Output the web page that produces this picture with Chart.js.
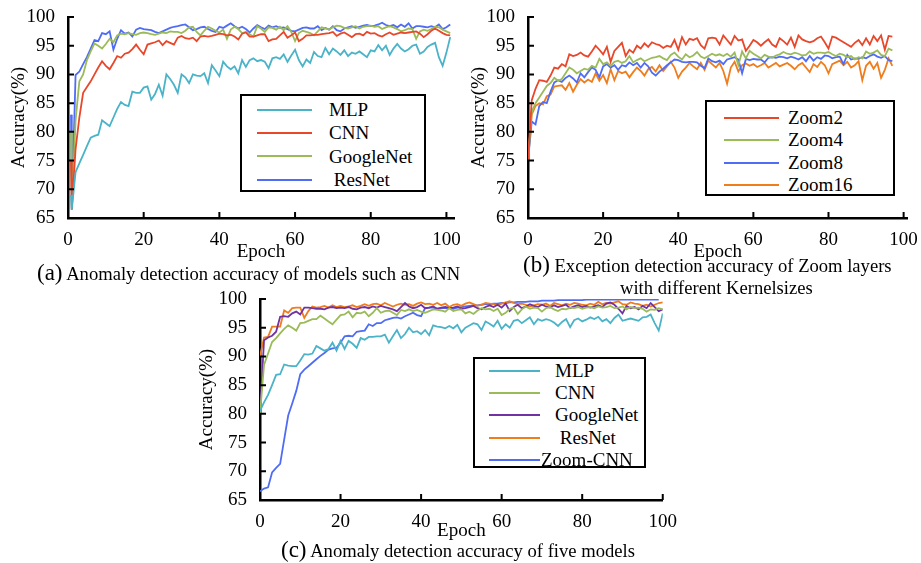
<!DOCTYPE html>
<html>
<head>
<meta charset="utf-8">
<script src="https://cdn.jsdelivr.net/npm/chart.js@4.4.1/dist/chart.umd.min.js"></script>
<style>
  body { margin: 0; background: #fff; width: 921px; height: 563px; position: relative; overflow: hidden;
         font-family: 'Liberation Serif', 'Times New Roman', serif; color: #000; }
  canvas { position: absolute; }
  .legend { position: absolute; box-sizing: border-box; border: 2px solid #000; background: #fff; }
  .legend .row { position: relative; }
  .legend .swatch { position: absolute; height: 0; border-top: 2px solid; }
  .legend .txt { position: absolute; font-size: 19px; white-space: pre; }
  .caption { position: absolute; white-space: nowrap; font-size: 18.6px; line-height: 24px; }
  .caption .tag { font-size: 23px; }
</style>
</head>
<body>
<canvas id="chartA"></canvas>
<canvas id="chartB"></canvas>
<canvas id="chartC"></canvas>

<div class="caption" style="left:37px; top:261px;"><span class="tag">(a)</span> Anomaly detection accuracy of models such as CNN</div>
<div class="caption" style="left:523px; top:253px;"><span class="tag">(b)</span> Exception detection accuracy of Zoom layers</div>
<div class="caption" style="left:620px; top:276px;">with different Kernelsizes</div>
<div class="caption" style="left:281px; top:538px;"><span class="tag">(c)</span> Anomaly detection accuracy of five models</div>

<script>
// shared tick labels
const xTicks = [0, 20, 40, 60, 80, 100];
const yTicks = [65, 70, 75, 80, 85, 90, 95, 100];

// ---- (a) models such as CNN ----
const epochsA = [0.8, 1, 2, 3, 4, 5, 6, 7, 8, 9, 10, 11, 12, 13, 14, 15, 16, 17, 18, 19, 20,
  21, 22, 23, 24, 25, 26, 27, 28, 29, 30, 31, 32, 33, 34, 35, 36, 37, 38, 39, 40,
  41, 42, 43, 44, 45, 46, 47, 48, 49, 50, 51, 52, 53, 54, 55, 56, 57, 58, 59, 60,
  61, 62, 63, 64, 65, 66, 67, 68, 69, 70, 71, 72, 73, 74, 75, 76, 77, 78, 79, 80,
  81, 82, 83, 84, 85, 86, 87, 88, 89, 90, 91, 92, 93, 94, 95, 96, 97, 98, 99, 100, 101];
const labelsA = ['MLP', 'CNN', 'GoogleNet', ' ResNet'];
const mlpA = [69, 66.5, 73, 74.5, 76, 77.5, 79, 79.3, 79.5, 82, 81.5, 81, 82.5, 84, 85.2, 84.7, 84.5, 87, 86.8, 86.8, 87.7,
  87.9, 85.6, 86.6, 88.2, 86.3, 90, 89.2, 88.2, 86.8, 90, 89.5, 88.5, 90, 89.8, 89.7, 90.2, 88.5, 91.6, 90.7, 89.7,
  92.2, 91.4, 90.9, 91.4, 90.2, 92.5, 91.3, 92.5, 92.8, 92.3, 92.5, 92.2, 91.1, 92.8, 93, 92.7, 93.5, 92.2, 93.3, 94.3,
  92.5, 91.4, 92.6, 92, 93.9, 93.2, 93, 94.6, 93.5, 94.5, 94, 93.4, 94.2, 93.2, 93.8, 93.6, 94, 93.5, 93, 94.2,
  94, 95.1, 94.2, 95, 93.4, 94.5, 95.3, 94.5, 94, 94.4, 95, 95.2, 93.6, 94, 94.8, 95.2, 95.5, 93, 91.5, 93.8, 96.5];
const cnnA = [75, 66.5, 77, 82.5, 86.8, 87.8, 88.8, 90, 91.2, 92.3, 91.5, 90.9, 92, 93.2, 92.9, 93.6, 93.8, 94.4, 95.2, 94.3, 93.5,
  95.2, 95.4, 95.6, 95.9, 95.1, 95.8, 95.5, 95.2, 96.4, 96.7, 96.3, 96.2, 96.4, 95.8, 96.6, 96.7, 96.6, 96.7, 96.9, 97.1,
  97, 96.8, 96.9, 96.6, 96.1, 97.1, 97.3, 96.6, 96.6, 96.8, 97, 97, 95.8, 96.1, 96.2, 96.8, 97.4, 96.4, 96.8, 97.3,
  95.8, 96.2, 96.8, 96.8, 96.9, 96.9, 97, 97.1, 97.2, 97.4, 96.7, 97.1, 97.3, 96.9, 96.5, 97, 97.1, 96.8, 97.4, 97.1,
  97.2, 96.8, 96.6, 97, 97.3, 96.9, 97.1, 97.3, 97.2, 97.3, 97.4, 97.5, 97.1, 96.5, 97, 97.6, 98, 97.6, 97.2, 96.9, 96.8];
const googleA = [80, 66.5, 82, 88.8, 90, 92.5, 94, 95.4, 95, 94.5, 95.3, 96.2, 95.6, 96.8, 97.1, 97, 97.2, 97, 96.9, 97.2, 97.3,
  97.2, 97, 96.9, 97.1, 97.3, 97.2, 97.5, 97.4, 97.4, 97.2, 97.6, 98.2, 98.3, 97.4, 96.8, 97.6, 98.3, 98, 97.6, 97.3,
  97.8, 96.2, 97.8, 98.3, 97.9, 97.2, 97.4, 97, 96.6, 98.4, 98, 97.4, 98.2, 98.1, 97.8, 98.3, 97.7, 98.4, 97.4, 95.8,
  97.2, 97.6, 97.4, 97.2, 96.8, 97.5, 98.2, 98, 97.8, 98.2, 98.5, 98.4, 98.1, 98, 98.2, 98.4, 98, 98.3, 98.4, 98.5,
  98.3, 98.4, 97.9, 98.2, 98.4, 98.2, 97.9, 97.5, 97.7, 98, 97.9, 96.2, 97.5, 97.8, 97.6, 97.9, 98.3, 98.2, 97.8, 97.5, 97.2];
const resnetA = [83, 66.5, 89.9, 90.5, 91.8, 93, 94.5, 96, 95.8, 97.2, 97, 97.5, 94.3, 96.2, 97.7, 97.1, 97.3, 96.6, 97.8, 98.1, 97.9,
  97.8, 97.7, 97.4, 97.2, 97.5, 97.8, 98.1, 98.3, 98.4, 98.6, 98.7, 98.2, 97.7, 97.9, 98.2, 98.3, 97.9, 97.6, 97.4, 98.3,
  98.1, 98.5, 98.9, 98.4, 98, 98.3, 97.9, 97.3, 98, 98.6, 98.2, 97.9, 98.5, 98.2, 98.4, 98.1, 98.2, 97.9, 97.6, 97.5,
  97.8, 98.1, 98.2, 98, 98, 98.4, 97.7, 98.1, 97.8, 98.4, 97.7, 97.5, 98, 98.2, 98.4, 98.1, 98.3, 98.5, 98.6, 98.4,
  98.5, 98.7, 99, 98.6, 98.4, 98.6, 98.2, 98.7, 98.3, 98.9, 98, 98.4, 98.4, 98.3, 98.2, 98.4, 98.2, 98.7, 97.9, 98.2, 98.7];

// ---- (b) Zoom layers with different kernel sizes ----
const epochsB = [0, 1, 2, 3, 4, 5, 6, 7, 8, 9, 10, 11, 12, 13, 14, 15, 16, 17, 18, 19, 20,
  21, 22, 23, 24, 25, 26, 27, 28, 29, 30, 31, 32, 33, 34, 35, 36, 37, 38, 39, 40,
  41, 42, 43, 44, 45, 46, 47, 48, 49, 50, 51, 52, 53, 54, 55, 56, 57, 58, 59, 60,
  61, 62, 63, 64, 65, 66, 67, 68, 69, 70, 71, 72, 73, 74, 75, 76, 77, 78, 79, 80,
  81, 82, 83, 84, 85, 86, 87, 88, 89, 90, 91, 92, 93, 94, 95, 96, 97];
const labelsB = ['Zoom2', 'Zoom4', 'Zoom8', 'Zoom16'];
const zoom2 = [75, 85.5, 87.5, 89, 88.9, 88.7, 89.8, 91.2, 91, 91.8, 91.4, 93.5, 93.2, 93.4, 93.8, 93.3, 93.1, 94, 95, 94.3, 93.5,
  94.8, 92.2, 94.1, 94.8, 95.5, 93.2, 94.3, 93.8, 95, 94.5, 95.4, 94.8, 95.6, 95.3, 95.1, 94.6, 95, 94.8, 96, 94.3,
  96.5, 95.2, 96.2, 96, 96.3, 95.1, 94.5, 96.3, 96.4, 96.3, 95.2, 96.8, 96, 95.2, 96.7, 95.9, 96.1, 94.1, 95, 96,
  95.6, 95, 95.6, 96.1, 95.2, 94.8, 96.3, 95.8, 95.2, 96.4, 94.8, 96.8, 96.1, 95.8, 95.6, 95.8, 96.3, 96.6, 95.6, 94.5,
  96.6, 96.4, 96, 95.6, 95.2, 94.8, 95.5, 96, 95.1, 96.3, 95.2, 96.7, 95.8, 96.8, 94.3, 96.7, 96.6];
const zoom4 = [75, 83.5, 85, 86, 87, 88, 88.5, 89.4, 88.9, 89.2, 90.2, 91.2, 90.8, 90.2, 90.6, 91, 90.8, 91.5, 91.2, 92.7, 91.8,
  92.1, 91.5, 92.2, 92.4, 92, 92.3, 93.2, 92.1, 92.5, 92.8, 92.3, 92.6, 92.9, 93, 93.2, 92.8, 92.5, 93.4, 93.8, 93.1,
  92.6, 93.5, 93, 93.3, 93.9, 93.1, 92.8, 93.2, 93.6, 93.3, 93.5, 93.2, 93.6, 93.1, 93.8, 91.6, 94, 92.8, 94.1, 93.6,
  93.2, 92.8, 93.4, 93.1, 92.9, 93.3, 93.5, 93.9, 93.6, 93.5, 93.8, 93.6, 93.3, 93.4, 94, 93.6, 93.8, 93.8, 93.7, 93.9,
  93.5, 93.2, 93.6, 93.4, 93, 93.2, 92.6, 93, 92.8, 94, 93.6, 93.8, 94.2, 93.4, 93.2, 94.5, 94.2];
const zoom8 = [75, 81.8, 81.3, 84.5, 85.2, 85, 87, 88.6, 89, 88.7, 89.4, 89.8, 89.3, 88.6, 90.2, 89.5, 90.4, 91.2, 90.8, 89.5, 91.4,
  91.8, 91.2, 91.6, 90.8, 91.6, 91.4, 92.1, 91.6, 92, 91.2, 92, 91.4, 90.3, 89.8, 90.5, 91, 91.6, 92.1, 92.6, 92.5,
  92.2, 92.1, 92.2, 92.2, 92.1, 91.5, 91.1, 92.8, 92.3, 92.1, 92.4, 91.8, 92.6, 92.8, 93, 92.6, 90.2, 92.7, 92.5, 92.7,
  92.6, 92.6, 92.1, 92.9, 93, 92.9, 93.1, 93, 92.8, 93.1, 92.9, 92.6, 93, 92.3, 93.2, 92.4, 93, 92.7, 93.3, 93.2,
  92.8, 93, 93.1, 91.8, 93.4, 92.6, 92.8, 92.7, 93, 92.8, 93.2, 93.5, 93.1, 92.9, 93.2, 92.5, 92.3];
const zoom16 = [75, 83, 84.5, 85, 84.8, 86.2, 86.5, 87.9, 88, 88.1, 87.3, 88.5, 87, 88.2, 89.2, 88.6, 89.1, 88.7, 90.2, 88.9, 89.9,
  88.5, 90.9, 89, 90.6, 90.2, 90.5, 89.5, 90.4, 91.2, 90.6, 89.8, 90.9, 91.3, 90.5, 91.6, 90.6, 91.4, 92.2, 91.2, 89.4,
  90.5, 91.2, 92, 91.4, 90.9, 92, 90.8, 92.4, 91.8, 91.2, 92, 90.6, 88.4, 91.2, 92.2, 90.5, 91.6, 91.9, 91.5, 91.8,
  91.3, 91.6, 92, 91.2, 91.6, 92, 91.4, 91.7, 92, 91.5, 90.9, 91.6, 92, 91.2, 90.4, 91.8, 91.3, 92.2, 91.6, 90.2,
  91.8, 92.1, 92.4, 91.6, 92.2, 91.2, 91.6, 92.3, 89, 91.5, 92.2, 91, 92, 89.4, 90.8, 92.8, 91.5];

// ---- (c) five models ----
const epochsC = [0, 1, 2, 3, 4, 5, 6, 7, 8, 9, 10, 11, 12, 13, 14, 15, 16, 17, 18, 19, 20,
  21, 22, 23, 24, 25, 26, 27, 28, 29, 30, 31, 32, 33, 34, 35, 36, 37, 38, 39, 40,
  41, 42, 43, 44, 45, 46, 47, 48, 49, 50, 51, 52, 53, 54, 55, 56, 57, 58, 59, 60,
  61, 62, 63, 64, 65, 66, 67, 68, 69, 70, 71, 72, 73, 74, 75, 76, 77, 78, 79, 80,
  81, 82, 83, 84, 85, 86, 87, 88, 89, 90, 91, 92, 93, 94, 95, 96, 97, 98, 99, 100];
const labelsC = ['MLP', 'CNN', 'GoogleNet', ' ResNet', 'Zoom-CNN'];
const mlpC = [80.5, 82, 83.3, 85, 86.8, 86.9, 88.6, 88.4, 88.3, 88.3, 89.3, 90.4, 90.3, 90.5, 91.8, 91.4, 91, 91.3, 92.4, 91, 92.7,
  91.3, 92.7, 92.2, 91.5, 93.2, 92.9, 93.4, 93.4, 93.5, 93.5, 93.8, 92.4, 93.5, 94.6, 93.2, 93.9, 95, 94.2, 94.4, 93.9,
  94.6, 93.7, 95.4, 95.2, 95.1, 94.9, 95.3, 94.9, 95.5, 94.2, 95, 95.4, 95.8, 95.6, 94.6, 96.1, 95.7, 95.2, 96.2, 94.8,
  95.6, 95, 96.2, 96.4, 95.8, 96.3, 96.8, 95.6, 96.5, 96.2, 96.5, 96.3, 95.9, 95.3, 96, 96.5, 95.1, 96.3, 96.6, 96.1,
  96.4, 96.8, 96.5, 96.9, 96.1, 96.5, 95.8, 96.7, 97.3, 96.2, 96.4, 96.6, 96.4, 96.2, 96.8, 96.9, 97.3, 95.8, 94.5, 97.5];
const cnnC = [80, 88.5, 90.5, 92.5, 93.2, 94, 94.8, 95.4, 95, 94.5, 95.8, 95.9, 96.2, 96.5, 96.5, 97.1, 96.6, 96.1, 95.6, 96.4, 97.2,
  97.3, 97.8, 96.8, 97.6, 97.5, 97.8, 97, 97.6, 98.4, 97.6, 97.9, 98, 97.6, 97.2, 98.1, 97.9, 98.2, 97.9, 98.1, 97.8,
  97.6, 97.9, 98.2, 98.1, 98, 97.8, 98.4, 97.9, 98.1, 98.2, 97.5, 97.8, 97.4, 98, 98.4, 98.2, 98.3, 97.9, 98.3, 97.2,
  97.6, 98.3, 98.5, 97.4, 98.2, 98.7, 98.3, 98.5, 98.4, 97.8, 98.4, 98.6, 98.2, 97.9, 98.3, 98.2, 98.5, 98.4, 98.6, 98.3,
  98.5, 98.6, 98.4, 98.7, 98.5, 98.6, 98.8, 98.4, 98.5, 98.7, 98.2, 98.6, 98.4, 98.5, 98.3, 97.8, 98.2, 98.1, 98.4, 98.2];
const googleC = [80, 92.8, 93.3, 93.6, 94.3, 96.9, 97, 96.9, 97.5, 97.8, 97.3, 98.5, 98.5, 98.4, 98.3, 98.3, 98.2, 98.5, 98.6, 98.4, 98.5,
  98.4, 98.6, 98.3, 98.2, 98.5, 98.6, 98.4, 98.7, 98.5, 98.8, 98.6, 98.4, 98.2, 97.9, 98.6, 99.3, 98.7, 98.4, 98.6, 99,
  98.4, 98.5, 98.7, 98.3, 98.5, 98.6, 98.4, 98.5, 98.7, 98.3, 98.4, 98.6, 98.8, 98.4, 98.2, 98.6, 98.9, 98.6, 99, 98.5,
  99.2, 97.9, 98.6, 99, 98.4, 98.7, 99.1, 98.8, 98.6, 99, 98.7, 98.5, 98.9, 98.6, 98.8, 99, 98.4, 98.7, 98.9, 98.6,
  98.8, 98.5, 98.7, 98.9, 98.6, 99.2, 99.4, 99, 98.3, 97.5, 98.8, 98.4, 98.6, 98.2, 98.8, 98.4, 99.3, 98.6, 97.9, 98.2];
const resnetC = [90, 93.3, 93.4, 95.2, 95.2, 95.2, 98, 97.6, 98.4, 98.5, 98.5, 96.7, 97.9, 98.7, 98.5, 98.6, 98.8, 98.5, 98.9, 98.6, 98.8,
  98.6, 98.7, 98.9, 98.6, 98.8, 99.1, 98.8, 99.1, 99.2, 98.9, 99.3, 99, 98.7, 99, 99.2, 99, 99.1, 98.8, 99.2, 99.4,
  99.1, 99.2, 99, 99.3, 98.9, 99.2, 98.6, 99, 99.1, 98.8, 99.2, 99.4, 99.1, 98.8, 99, 99.3, 99.2, 99.1, 98.9, 99.2,
  99.4, 99.6, 99.3, 99.1, 99.2, 99, 98.7, 98.9, 99.1, 99, 99.2, 98.8, 99.3, 99.1, 98.9, 99.2, 99, 99.3, 99.2, 99,
  98.9, 99.2, 99, 99.5, 99.1, 99.3, 99.2, 99.4, 99.6, 99.1, 99, 99.4, 99.2, 99.1, 98.8, 99, 98.7, 99, 99.3, 99.4];
const zoomCnnC = [66.5, 67, 67.2, 69.8, 70.6, 71.3, 75.5, 79.7, 81.8, 84, 86.9, 87.7, 88.3, 88.9, 89.5, 90.1, 90.6, 91.2, 91.4, 91.5, 92.4,
  93.5, 93.6, 93.5, 94.3, 94.4, 94.5, 95.6, 95.3, 95.8, 95.8, 96.3, 96.5, 96.7, 96.8, 96.6, 97, 97.3, 97.6, 97.2, 97,
  98.4, 98.5, 98.5, 98.3, 98.4, 98.4, 98.4, 98.3, 98.5, 98.6, 98.7, 98.8, 98.9, 98.9, 99, 99.1, 99.1, 99.2, 99.2, 99.3,
  99.3, 99.4, 99.4, 99.5, 99.5, 99.5, 99.6, 99.6, 99.6, 99.7, 99.7, 99.7, 99.7, 99.8, 99.8, 99.8, 99.8, 99.8, 99.8, 99.8,
  99.9, 99.9, 99.9, 99.9, 99.9, 99.9, 99.9, 99.9, 99.9, 99.9, 99.9, 99.9, 99.9, 99.9, 99.9, 99.9, 99.9, 99.9, 99.9];

// line colours
const cyan = '#4bb3c8', red = '#e8472a', green = '#9bbb59', blue = '#4f6cf5', orange = '#f07d1c', purple = '#7132a3';

Chart.defaults.font.family = "'Liberation Serif', 'Times New Roman', serif";
Chart.defaults.font.size = 19;
Chart.defaults.color = '#000';

// short tick marks pointing into the plot, like the original figure
const inwardTicks = {
  id: 'inwardTicks',
  afterDraw(chart) {
    const ctx = chart.ctx, area = chart.chartArea;
    const xs = chart.scales.x, ys = chart.scales.y;
    ctx.save();
    ctx.strokeStyle = '#000';
    ctx.lineWidth = 2;
    ctx.beginPath();
    xs.ticks.forEach(t => {
      const px = xs.getPixelForValue(t.value);
      ctx.moveTo(px, area.bottom);
      ctx.lineTo(px, area.bottom - 6);
    });
    ys.ticks.forEach(t => {
      const py = ys.getPixelForValue(t.value);
      ctx.moveTo(area.left, py);
      ctx.lineTo(area.left + 6, py);
    });
    ctx.stroke();
    ctx.restore();
  }
};

function pairs(xs, ys) {
  return ys.map((v, i) => ({ x: xs[i], y: v }));
}

function makeChart(id, box, epochs, labels, series, colors) {
  const canvas = document.getElementById(id);
  canvas.width = box.width;
  canvas.height = box.height;
  canvas.style.left = box.left + 'px';
  canvas.style.top = box.top + 'px';

  const datasets = series.map((s, i) => ({
    label: labels[i],
    data: pairs(epochs, s),
    borderColor: colors[i],
    backgroundColor: colors[i],
    borderWidth: 1.8,
    pointRadius: 0,
    tension: 0,
    fill: false
  }));

  return new Chart(canvas, {
    type: 'line',
    data: { datasets: datasets },
    options: {
      responsive: false,
      animation: false,
      devicePixelRatio: 1,
      layout: { padding: { top: box.padTop, right: box.padRight, left: 0, bottom: 0 } },
      plugins: { legend: { display: false }, tooltip: { enabled: false } },
      scales: {
        x: {
          type: 'linear',
          min: 0,
          max: box.xMax,
          grid: { display: false },
          border: { display: true, color: '#000', width: 2.5 },
          ticks: { padding: 3, autoSkip: false, maxRotation: 0 },
          afterBuildTicks: s => { s.ticks = xTicks.map(v => ({ value: v })); },
          afterFit: s => { s.height = box.xHeight; },
          title: { display: true, text: 'Epoch', font: { size: 19 }, padding: { top: 0, bottom: 0 } }
        },
        y: {
          min: 65,
          max: 100,
          grid: { display: false },
          border: { display: true, color: '#000', width: 2.5 },
          ticks: { padding: 5, autoSkip: false },
          afterBuildTicks: s => { s.ticks = yTicks.map(v => ({ value: v })); },
          afterFit: s => { s.width = box.yWidth; },
          title: { display: true, text: 'Accuracy(%)', font: { size: 19 }, padding: { top: 8, bottom: 0 } }
        }
      }
    },
    plugins: [inwardTicks]
  });
}

// legend box drawn in HTML on top of the plot, entries taken from the chart's datasets
function makeLegend(chart, box) {
  const div = document.createElement('div');
  div.className = 'legend';
  div.style.left = box.left + 'px';
  div.style.top = box.top + 'px';
  div.style.width = box.width + 'px';
  div.style.height = box.height + 'px';
  div.style.paddingTop = box.padTop + 'px';
  chart.data.datasets.forEach(ds => {
    const row = document.createElement('div');
    row.className = 'row';
    row.style.height = box.rowH + 'px';
    const sw = document.createElement('div');
    sw.className = 'swatch';
    sw.style.left = box.lineFrom + 'px';
    sw.style.width = (box.lineTo - box.lineFrom) + 'px';
    sw.style.top = (box.rowH / 2 - 1) + 'px';
    sw.style.borderTopColor = ds.borderColor;
    const tx = document.createElement('div');
    tx.className = 'txt';
    tx.style.left = (box.textAt + (box.shift[ds.label] || 0)) + 'px';
    tx.style.top = '0px';
    tx.style.lineHeight = box.rowH + 'px';
    tx.textContent = ds.label;
    row.appendChild(sw);
    row.appendChild(tx);
    div.appendChild(row);
  });
  document.body.appendChild(div);
}

const chartA = makeChart('chartA',
  { left: 0, top: 0, width: 470, height: 263, padTop: 17, padRight: 16, yWidth: 68, xHeight: 45, xMax: 102 },
  epochsA, labelsA, [mlpA, cnnA, googleA, resnetA], [cyan, red, green, blue]);
const chartB = makeChart('chartB',
  { left: 460, top: 0, width: 461, height: 263, padTop: 17, padRight: 13, yWidth: 68, xHeight: 45, xMax: 101 },
  epochsB, labelsB, [zoom2, zoom4, zoom8, zoom16], [red, green, blue, orange]);
const chartC = makeChart('chartC',
  { left: 188, top: 280, width: 492, height: 262, padTop: 19, padRight: 10, yWidth: 72, xHeight: 42, xMax: 100 },
  epochsC, labelsC, [mlpC, cnnC, googleC, resnetC, zoomCnnC], [cyan, green, purple, orange, blue]);

makeLegend(chartA, { left: 240, top: 94, width: 186, height: 98, padTop: 2, rowH: 23.3, lineFrom: 15, lineTo: 70, textAt: 87, shift: {} });
makeLegend(chartB, { left: 705, top: 100, width: 190, height: 96, padTop: 5, rowH: 22.3, lineFrom: 17, lineTo: 72, textAt: 81, shift: {} });
makeLegend(chartC, { left: 473, top: 357, width: 173, height: 111, padTop: 1, rowH: 22.2, lineFrom: 14, lineTo: 65, textAt: 80, shift: { 'Zoom-CNN': -14 } });
</script>
</body>
</html>
